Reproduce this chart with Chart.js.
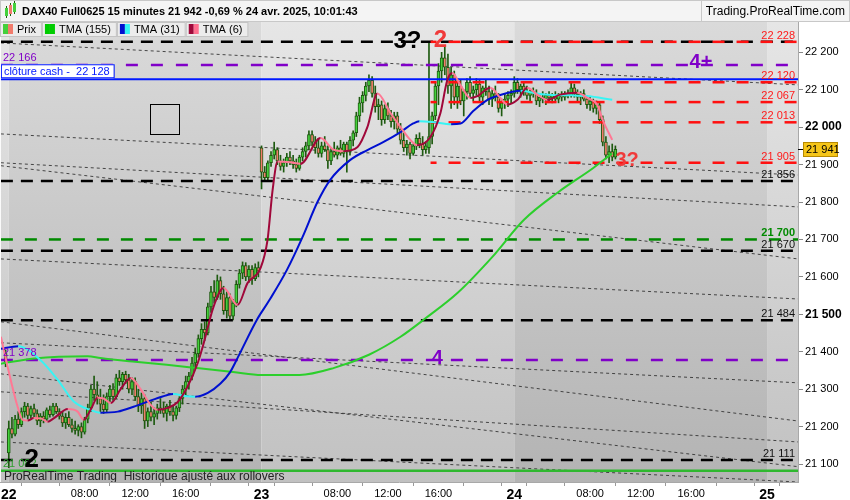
<!DOCTYPE html>
<html lang="fr">
<head>
<meta charset="UTF-8">
<title>DAX40 Full0625 15 minutes</title>
<script src="https://cdn.jsdelivr.net/npm/chart.js"></script>
<style>
  html, body { margin: 0; padding: 0; background: #fff; }
  #wrap { width: 850px; height: 500px; }
</style>
</head>
<body>
<div id="wrap"><canvas id="chart" width="850" height="500"></canvas></div>
<script>
// bar index: 0 = 22 avr. 02:00, one bar = 15 minutes, 80 bars per session (02:00-22:00)
const firstBar = -1;
const xMin = -2.5, xMax = 249.8;

const opens = [
  21395,
  21130,21195,21180,21220,21205,21240,21255,21230,21248,21235,21215,21228,21220,21245,21232,21255,21240,21228,21210,21225,
  21205,21195,21190,21200,21185,21220,21250,21300,21285,21275,21260,21245,21280,21300,21280,21330,21320,21340,21325,21300,
  21320,21280,21255,21275,21215,21240,21225,21235,21250,21245,21235,21255,21240,21230,21250,21275,21300,21320,21335,21370,
  21395,21435,21460,21450,21520,21560,21545,21590,21555,21510,21545,21495,21530,21580,21610,21630,21600,21620,21595,21625,
  21945,21880,21865,21905,21925,21940,21910,21895,21905,21920,21910,21900,21890,21920,21935,21950,21980,21960,21945,21930,
  21950,21940,21910,21935,21925,21945,21930,21955,21935,21965,21985,22030,22065,22085,22110,22125,22090,22055,22060,22020,
  22050,22030,22015,22030,21995,21965,21945,21955,21930,21950,21970,21955,21940,21945,21975,22030,22110,22150,22185,22160,
  22110,22140,22080,22110,22070,22095,22120,22090,22100,22115,22080,22105,22095,22075,22090,22080,22050,22065,22075,22085,
  22090,22120,22100,22110,22095,22085,22095,22090,22070,22080,22075,22085,22078,22085,22075,22088,22080,22090,22085,22105,
  22088,22080,22090,22075,22060,22070,22050,22060,22020,21960,21925,21935,21920
];
const highs = [
  21405,
  21215,21225,21230,21240,21250,21265,21262,21255,21260,21245,21235,21240,21250,21255,21262,21262,21248,21240,21235,21240,
  21220,21215,21205,21210,21225,21260,21310,21335,21320,21300,21285,21290,21310,21315,21340,21350,21345,21348,21340,21330,
  21330,21300,21290,21285,21250,21265,21250,21260,21275,21265,21260,21270,21255,21255,21280,21310,21335,21345,21385,21410,
  21445,21475,21480,21530,21575,21590,21605,21600,21575,21560,21555,21540,21590,21620,21640,21638,21630,21630,21635,21640,
  21950,21895,21910,21935,21960,21945,21925,21915,21930,21935,21925,21915,21925,21945,21960,21990,21990,21975,21970,21960,
  21975,21950,21945,21960,21950,21965,21960,21960,21975,21990,22040,22080,22095,22120,22140,22135,22110,22075,22070,22060,
  22065,22045,22040,22040,22010,21985,21965,21960,21955,21980,21985,21975,21960,22228,22040,22120,22170,22200,22215,22195,
  22160,22150,22130,22125,22100,22130,22135,22110,22130,22125,22110,22125,22110,22100,22110,22090,22075,22090,22095,22100,
  22135,22130,22115,22120,22110,22100,22105,22100,22085,22095,22090,22095,22090,22095,22090,22095,22095,22100,22120,22115,
  22100,22095,22100,22085,22080,22075,22070,22065,22030,21975,21950,21955,21950
];
const lows = [
  21360,
  21090,21170,21175,21195,21200,21225,21220,21222,21225,21205,21200,21210,21215,21225,21228,21235,21220,21200,21195,21200,
  21185,21180,21175,21170,21180,21210,21240,21270,21260,21240,21235,21240,21265,21270,21275,21310,21300,21315,21290,21285,
  21270,21240,21235,21195,21200,21215,21205,21220,21235,21225,21215,21230,21215,21220,21240,21260,21285,21300,21325,21355,
  21385,21420,21430,21445,21505,21530,21540,21540,21500,21490,21485,21485,21520,21570,21595,21590,21585,21580,21590,21600,
  21835,21855,21860,21895,21915,21900,21885,21880,21895,21900,21890,21880,21885,21910,21920,21940,21950,21930,21920,21920,
  21935,21890,21900,21920,21915,21925,21920,21880,21925,21950,21975,22015,22040,22070,22095,22080,22040,22020,22005,22010,
  22020,22000,21995,21985,21955,21935,21925,21915,21925,21940,21945,21925,21930,21930,21955,22020,22060,22120,22140,22090,
  22050,22060,22050,22060,22030,22075,22080,22070,22085,22070,22060,22085,22060,22055,22070,22040,22030,22050,22055,22065,
  22080,22090,22080,22085,22075,22070,22080,22060,22055,22065,22060,22070,22065,22070,22065,22070,22072,22078,22080,22080,
  22070,22060,22070,22050,22045,22040,22035,22010,21950,21915,21905,21910,21915
];
const closes = [
  21370,
  21195,21180,21220,21205,21240,21255,21230,21248,21235,21215,21228,21220,21245,21232,21255,21240,21228,21210,21225,21205,
  21195,21190,21200,21185,21220,21250,21300,21285,21275,21260,21245,21280,21300,21280,21330,21320,21340,21325,21300,21320,
  21280,21255,21275,21215,21240,21225,21235,21250,21245,21235,21255,21240,21230,21250,21275,21300,21320,21335,21370,21395,
  21435,21460,21450,21520,21560,21545,21590,21555,21510,21545,21495,21530,21580,21610,21630,21600,21620,21595,21625,21615,
  21880,21865,21905,21925,21940,21910,21895,21905,21920,21910,21900,21890,21920,21935,21950,21980,21960,21945,21930,21950,
  21940,21910,21935,21925,21945,21930,21955,21935,21965,21985,22030,22065,22085,22110,22125,22090,22055,22060,22020,22050,
  22030,22015,22030,21995,21965,21945,21955,21930,21950,21970,21955,21940,21950,21975,22030,22110,22150,22185,22160,22110,
  22140,22080,22110,22070,22095,22120,22090,22100,22115,22080,22105,22095,22075,22090,22080,22050,22065,22075,22085,22090,
  22120,22100,22110,22095,22085,22095,22090,22070,22080,22075,22085,22078,22085,22075,22088,22080,22090,22085,22105,22088,
  22080,22090,22075,22060,22070,22050,22060,22020,21960,21925,21935,21920,21941
];

// moving averages (bar, value)
const tma155Bars = [-2.5, 8, 25, 29, 40, 50, 61, 71, 80, 92, 103, 114, 124, 132, 142, 153, 163, 174, 185, 191];
const tma155Vals = [21368, 21382, 21388, 21383, 21373, 21365, 21355, 21346, 21338, 21338, 21357, 21392, 21440, 21490, 21557, 21653, 21752, 21827, 21891, 21930];
const tma31Bars = [-2.5, 3, 10, 15.5, 20.5, 26, 29, 34.5, 39.5, 45, 50, 52, 56.5, 59, 63, 67, 70, 72.5, 78.5, 82.5,
  88, 93, 97.7, 101.8, 108, 113.5, 118.5, 124, 128, 130, 134, 140, 143, 147, 151.5, 155.5, 162, 167, 172, 178, 183, 191];
const tma31Vals = [21408, 21415, 21378, 21325, 21268, 21244, 21237, 21240, 21253, 21270, 21284, 21287, 21281, 21280, 21290, 21315, 21345, 21385, 21485, 21538,
  21618, 21707, 21800, 21860, 21912, 21939, 21960, 21987, 22010, 22016, 22014, 22008, 22010, 22043, 22073, 22086, 22097, 22090, 22086, 22085, 22083, 22073];
const tma6Bars = [-2.5, 0.6, 2.8, 4.4, 6, 7.9, 10.1, 12.3, 14.2, 18.7, 21.8, 23.7, 25.9, 28.1, 30, 32.3, 35.4, 38.6, 41.7, 44.9,
  47.1, 50.3, 53.4, 56.6, 59.8, 61.7, 64.8, 68, 72.4, 75.6, 79.7, 81.9, 83.5, 85.1, 89.2, 92.3, 98.7, 102.8, 105.9, 110.4,
  113.5, 116.7, 120.8, 124, 127.1, 129.3, 133.4, 136.6, 138.8, 140.4, 142.9, 146.1, 148.3, 152.4, 155.6, 157.8, 161, 164.1, 167.3, 170.4,
  174.5, 179.9, 183.1, 186.2, 188.1, 191];
const tma6Vals = [21440, 21325, 21253, 21218, 21216, 21223, 21222, 21213, 21222, 21247, 21240, 21218, 21245, 21277, 21275, 21263, 21300, 21330, 21300, 21258,
  21245, 21250, 21265, 21307, 21370, 21423, 21520, 21570, 21525, 21584, 21624, 21699, 21832, 21908, 21906, 21902, 21971, 21940, 21936, 21947,
  22000, 22090, 22038, 22000, 21966, 21952, 21973, 22037, 22126, 22145, 22113, 22078, 22083, 22105, 22078, 22060, 22073, 22105, 22087, 22073,
  22087, 22092, 22078, 22060, 22017, 21966];

// horizontal levels
const blackLevels = [22228, 21856, 21670, 21484, 21111];
const redLevels = [22228, 22120, 22067, 22013, 21905];
const redFromBar = 133.5;
const purpleLevels = [22166, 21378];
const greenLevel = 21700;
const cashClose = 22128;
const lowLevel = 21082;

// dotted trend lines: value at left edge and at right edge
const trendLeft = [22225, 21982, 21905, 21897, 21648, 21424, 21480, 21293, 21341, 21159];
const trendRight = [22113, 21872, 21787, 21648, 21541, 21317, 21215, 21159, 21093, 21052];

// wave counts written on the chart
const waveText = ['3?', '2', '4+', '3?', '4', '2'];
const waveBars = [126.2, 136.6, 219.1, 195.7, 135.6, 7.3];
const wavePrices = [22228, 22232, 22174, 21912, 21381, 21111];

// drawn box
const boxBars = [44.6, 53.8];
const boxPrices = [22062, 21982];

// axes
const yTicks = [21100, 21200, 21300, 21400, 21500, 21600, 21700, 21800, 21900, 22000, 22100, 22200];
const yBold = [21500, 22000];
const xTickBars = [0, 8, 24, 40, 56, 72, 80, 88, 104, 120, 136, 152, 160, 168, 184, 200, 216, 232, 240, 248];
const xTickLabels = ['22', '', '08:00', '12:00', '16:00', '', '23', '', '08:00', '12:00', '16:00', '', '24', '', '08:00', '12:00', '16:00', '', '25', ''];
const dayStarts = [0, 80, 160, 240];

const FONT = '"Liberation Sans", Arial, sans-serif';
const fmt = v => String(Math.round(v)).replace(/(\d)(?=\d{3}$)/, '$1 ');

const candleX = opens.map((_, i) => firstBar + i);
const flat = (v, from) => [{x: from, y: v}, {x: xMax, y: v}];

const datasets = [];
trendLeft.forEach((v, i) => datasets.push({
  type: 'line', data: [{x: xMin, y: v}, {x: xMax, y: trendRight[i]}],
  borderColor: 'rgba(45,45,45,0.85)', borderWidth: 1, borderDash: [3, 3], pointRadius: 0, order: 20
}));
datasets.push({
  type: 'bar', label: 'Prix', data: candleX.map((x, i) => ({x, y: [lows[i], highs[i]]})),
  backgroundColor: '#1e5a10', barThickness: 1, grouped: false, order: 12
});
datasets.push({
  type: 'bar', label: 'Prix', data: candleX.map((x, i) => ({x, y: [opens[i], closes[i]]})),
  backgroundColor: candleX.map((_, i) => closes[i] >= opens[i] ? '#44d03c' : '#f27c6c'),
  borderColor: '#1e5a10', borderWidth: 1, borderSkipped: false, barThickness: 3, minBarLength: 2,
  grouped: false, order: 11
});
blackLevels.forEach(v => datasets.push({
  type: 'line', data: flat(v, xMin), borderColor: '#000', borderWidth: 2.5, borderDash: [12, 8], pointRadius: 0, order: 9
}));
redLevels.forEach(v => datasets.push({
  type: 'line', data: flat(v, redFromBar), borderColor: '#ff1010', borderWidth: 2.5, borderDash: [12, 12], borderDashOffset: 6, pointRadius: 0, order: 8
}));
purpleLevels.forEach(v => datasets.push({
  type: 'line', data: flat(v, xMin), borderColor: '#8000c8', borderWidth: 2.5, borderDash: [12, 13], pointRadius: 0, order: 8
}));
datasets.push({type: 'line', data: flat(greenLevel, xMin), borderColor: '#008a00', borderWidth: 2.5, borderDash: [12, 12], pointRadius: 0, order: 8});
datasets.push({type: 'line', data: flat(cashClose, xMin), borderColor: '#0018ff', borderWidth: 2, pointRadius: 0, order: 7});
datasets.push({type: 'line', data: flat(lowLevel, xMin), borderColor: '#2fb82f', borderWidth: 2.5, pointRadius: 0, order: 7});

const tmaLine = (label, bars, vals, up, down, order) => ({
  type: 'line', label, data: bars.map((b, i) => ({x: b, y: vals[i]})),
  borderColor: up, borderWidth: 2, pointRadius: 0, cubicInterpolationMode: 'monotone', order,
  segment: { borderColor: c => c.p1.parsed.y >= c.p0.parsed.y ? up : down }
});
datasets.push(tmaLine('TMA (155)', tma155Bars, tma155Vals, '#2ccf2c', '#2ccf2c', 3));
datasets.push(tmaLine('TMA (31)', tma31Bars, tma31Vals, '#0010d0', '#38f4f4', 2));
datasets.push(tmaLine('TMA (6)', tma6Bars, tma6Vals, '#a0083a', '#ff7894', 1));

const overlay = {
  id: 'overlay',
  beforeDraw(chart) {
    const {ctx, chartArea: a, scales: {x}} = chart;
    ctx.save();
    ctx.fillStyle = '#fff';
    ctx.fillRect(0, 0, chart.width, chart.height);
    const edges = [xMin, ...dayStarts.filter(d => d > xMin && d < xMax), xMax];
    for (let i = 0; i < edges.length - 1; i++) {
      const x0 = x.getPixelForValue(edges[i]), x1 = x.getPixelForValue(edges[i + 1]);
      const dark = i % 2 === 1;
      const g = ctx.createLinearGradient(0, a.top, 0, a.bottom);
      g.addColorStop(0, dark ? '#dadada' : '#e6e6e6');
      g.addColorStop(1, dark ? '#b3b3b3' : '#c1c1c1');
      ctx.fillStyle = g;
      ctx.fillRect(x0, a.top, x1 - x0, a.bottom - a.top);
    }
    ctx.restore();
  },
  afterDatasetsDraw(chart) {
    const {ctx, chartArea: a, scales: {x, y}} = chart;
    ctx.save();
    ctx.beginPath();
    ctx.rect(a.left, a.top, a.right - a.left, a.bottom - a.top);
    ctx.clip();

    // right side level labels
    ctx.font = '11px ' + FONT;
    ctx.textAlign = 'right';
    ctx.textBaseline = 'alphabetic';
    const rx = a.right - 3;
    redLevels.forEach(v => { ctx.fillStyle = '#ff1a1a'; ctx.fillText(fmt(v), rx, y.getPixelForValue(v) - 3); });
    blackLevels.filter(v => !redLevels.includes(v)).forEach(v => { ctx.fillStyle = '#111'; ctx.fillText(fmt(v), rx, y.getPixelForValue(v) - 3); });
    ctx.font = 'bold 11px ' + FONT;
    ctx.fillStyle = '#008a00';
    ctx.fillText(fmt(greenLevel), rx, y.getPixelForValue(greenLevel) - 3);

    // left side labels
    ctx.font = '11px ' + FONT;
    ctx.textAlign = 'left';
    ctx.fillStyle = '#8000c8';
    purpleLevels.forEach(v => ctx.fillText(fmt(v), a.left + 2, y.getPixelForValue(v) - 4));
    ctx.fillStyle = '#2fa02f';
    ctx.fillText(fmt(lowLevel), a.left + 2, y.getPixelForValue(lowLevel) - 4);
    const cy = y.getPixelForValue(cashClose);
    const cashTxt = 'clôture cash -  ' + fmt(cashClose);
    const cw = ctx.measureText(cashTxt).width + 7;
    ctx.fillStyle = '#fff';
    ctx.fillRect(a.left, cy - 15, cw, 14);
    ctx.strokeStyle = '#0018ff';
    ctx.lineWidth = 1;
    ctx.strokeRect(a.left + 0.5, cy - 14.5, cw, 13);
    ctx.fillStyle = '#0018ff';
    ctx.fillText(cashTxt, a.left + 3, cy - 4);

    // wave counts
    const waveColors = ['#000', '#f03a3a', '#8000c8', '#f03a3a', '#8000c8', '#000'];
    const waveSizes = [24, 24, 20, 20, 20, 26];
    ctx.textAlign = 'center';
    ctx.textBaseline = 'middle';
    waveText.forEach((t, i) => {
      ctx.font = 'bold ' + waveSizes[i] + 'px ' + FONT;
      ctx.fillStyle = waveColors[i];
      ctx.fillText(t, x.getPixelForValue(waveBars[i]), y.getPixelForValue(wavePrices[i]));
    });

    // drawn box
    const bx0 = Math.round(x.getPixelForValue(boxBars[0])) + 0.5, bx1 = Math.round(x.getPixelForValue(boxBars[1])) + 0.5;
    const by0 = Math.round(y.getPixelForValue(boxPrices[0])) + 0.5, by1 = Math.round(y.getPixelForValue(boxPrices[1])) + 0.5;
    ctx.strokeStyle = '#000';
    ctx.strokeRect(bx0, by0, bx1 - bx0, by1 - by0);

    // footer text
    ctx.textAlign = 'left';
    ctx.textBaseline = 'alphabetic';
    ctx.font = '12px ' + FONT;
    ctx.fillStyle = '#222';
    ctx.fillText('ProRealTime Trading  Historique ajusté aux rollovers', a.left + 3, a.bottom - 2);
    ctx.restore();
  },
  afterDraw(chart) {
    const {ctx, chartArea: a, scales: {y}} = chart;
    ctx.save();
    // title bar
    ctx.fillStyle = '#f4f4f4';
    ctx.fillRect(0, 0, chart.width, a.top);
    ctx.strokeStyle = '#c8c8c8';
    ctx.lineWidth = 1;
    ctx.strokeRect(0.5, 0.5, chart.width - 1, a.top - 1);
    ctx.beginPath();
    ctx.moveTo(701.5, 1);
    ctx.lineTo(701.5, a.top - 1);
    ctx.stroke();
    // little candle icon
    [[5, 8, 16, '#44d03c'], [9, 5, 14, '#f27c6c'], [13, 3, 12, '#44d03c']].forEach(([cx, t, b, col]) => {
      ctx.fillStyle = '#1e5a10';
      ctx.fillRect(cx + 1, t - 2, 1, b - t + 4);
      ctx.fillStyle = col;
      ctx.fillRect(cx, t, 3, b - t);
    });
    ctx.fillStyle = '#000';
    ctx.font = 'bold 11px ' + FONT;
    ctx.textBaseline = 'middle';
    ctx.fillText('DAX40 Full0625 15 minutes 21 942 -0,69 % 24 avr. 2025, 10:01:43', 22, 12);
    ctx.font = '12px ' + FONT;
    ctx.textAlign = 'right';
    ctx.fillText('Trading.ProRealTime.com', chart.width - 5, 12);
    ctx.textAlign = 'left';

    // legend row
    const items = [
      {label: 'Prix', cols: ['#44d03c', '#f27c6c']},
      {label: 'TMA (155)', cols: ['#00cc00', '#00cc00']},
      {label: 'TMA (31)', cols: ['#0010d0', '#38f4f4']},
      {label: 'TMA (6)', cols: ['#a0083a', '#ff6f8f']}
    ];
    ctx.font = '11px ' + FONT;
    let lx = 0;
    items.forEach(it => {
      const w = 3 + 10 + 4 + ctx.measureText(it.label).width + 5;
      ctx.fillStyle = '#ececec';
      ctx.fillRect(lx, a.top, w, 14);
      ctx.strokeStyle = '#c4c4c4';
      ctx.strokeRect(lx + 0.5, a.top + 0.5, w, 14);
      ctx.fillStyle = it.cols[0];
      ctx.fillRect(lx + 3, a.top + 2, 5, 10);
      ctx.fillStyle = it.cols[1];
      ctx.fillRect(lx + 8, a.top + 2, 5, 10);
      ctx.fillStyle = '#000';
      ctx.fillText(it.label, lx + 17, a.top + 8);
      lx += w + 1;
    });

    // last price tag
    const last = closes[closes.length - 1];
    const py = Math.round(y.getPixelForValue(last));
    ctx.fillStyle = '#000';
    ctx.fillRect(a.right, py, 5, 1);
    ctx.fillStyle = '#f5c518';
    ctx.fillRect(a.right + 5, py - 7, 34, 14);
    ctx.strokeStyle = '#b88a00';
    ctx.strokeRect(a.right + 5.5, py - 6.5, 34, 14);
    ctx.fillStyle = '#000';
    ctx.font = '11px ' + FONT;
    ctx.fillText(fmt(last), a.right + 8, py + 1);
    ctx.restore();
  }
};

new Chart(document.getElementById('chart'), {
  data: { datasets },
  options: {
    responsive: false,
    animation: false,
    layout: { padding: { top: 22, left: 0, right: 0, bottom: 0 } },
    plugins: { legend: { display: false }, tooltip: { enabled: false } },
    scales: {
      x: {
        type: 'linear', min: xMin, max: xMax, offset: false,
        afterBuildTicks: ax => { ax.ticks = xTickBars.map(v => ({value: v})); },
        afterFit: ax => { ax.height = 18; },
        ticks: {
          autoSkip: false, maxRotation: 0, padding: 1, color: '#000',
          callback: (v, i) => xTickLabels[i],
          font: c => ({ family: FONT, size: dayStarts.includes(c.tick && c.tick.value) ? 14 : 11,
                        weight: dayStarts.includes(c.tick && c.tick.value) ? 'bold' : 'normal' })
        },
        grid: { drawOnChartArea: false, tickLength: 4, color: '#999' },
        border: { color: '#a8a8a8' }
      },
      y: {
        position: 'right', min: 21052, max: 22281,
        afterBuildTicks: ax => { ax.ticks = yTicks.map(v => ({value: v})); },
        afterFit: ax => { ax.width = 52; },
        ticks: {
          padding: 2, color: '#000',
          callback: v => fmt(v),
          font: c => ({ family: FONT, size: yBold.includes(c.tick && c.tick.value) ? 12 : 11,
                        weight: yBold.includes(c.tick && c.tick.value) ? 'bold' : 'normal' })
        },
        grid: { drawOnChartArea: false, tickLength: 5, color: '#888' },
        border: { color: '#a8a8a8' }
      }
    }
  },
  plugins: [overlay]
});
</script>
</body>
</html>
